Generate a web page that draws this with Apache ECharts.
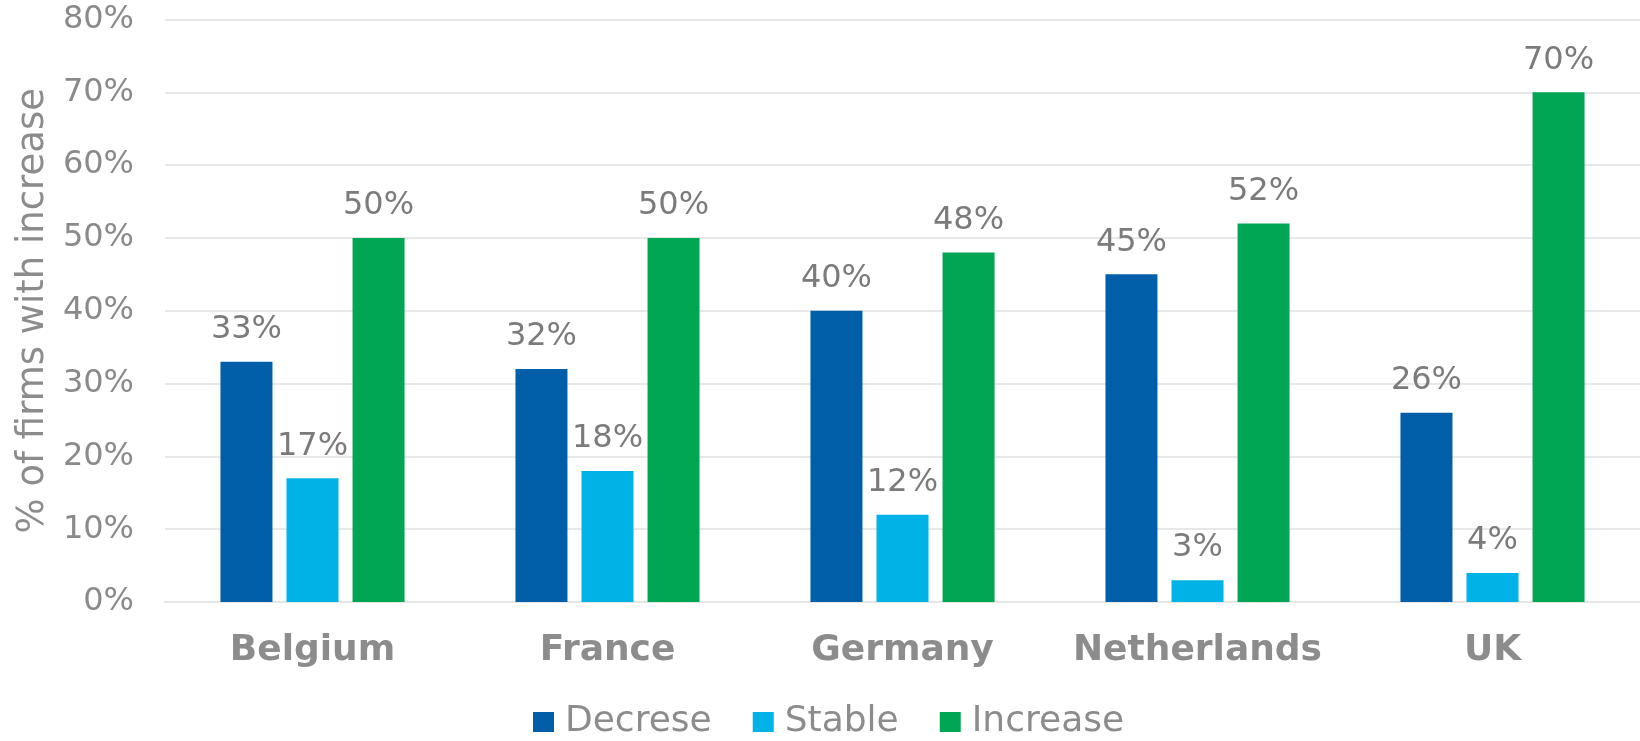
<!DOCTYPE html>
<html>
<head>
<meta charset="utf-8">
<title>Firms by change</title>
<script src="https://cdn.jsdelivr.net/npm/echarts@6/dist/echarts.min.js"></script>
<style>
  html, body { margin: 0; padding: 0; background: #fff; }
  #chart { width: 1640px; height: 741px; }
</style>
</head>
<body>
<div id="chart"></div>
<script>
// Countries along the x axis
const countries = ['Belgium', 'France', 'Germany', 'Netherlands', 'UK'];
// Share of firms (%) in each group, per country
const decreaseValues = [33, 32, 40, 45, 26];
const stableValues = [17, 18, 12, 3, 4];
const increaseValues = [50, 50, 48, 52, 70];
// Series names as shown in the legend
const seriesNames = ['Decrese', 'Stable', 'Increase'];
const seriesColors = ['#005FA8', '#00B2E5', '#00A654'];
// Value axis range
const yMin = 0, yMax = 80, yStep = 10;

const FONT = '"DejaVu Sans", Verdana, sans-serif';
const chart = echarts.init(document.getElementById('chart'), null, { renderer: 'canvas' });

function barSeries(name, data, color) {
  return {
    name: name,
    type: 'bar',
    data: data,
    barWidth: 52,
    barGap: '27%',
    itemStyle: { color: color },
    label: {
      show: true,
      position: 'top',
      distance: 16,
      formatter: '{c}%',
      color: '#7b7b7b',
      fontFamily: FONT,
      fontSize: 32
    },
    emphasis: { disabled: true }
  };
}

chart.setOption({
  animation: false,
  backgroundColor: '#fff',
  grid: { left: 165, top: 19.5, width: 1478, height: 582.5, containLabel: false },
  legend: {
    left: 533,
    top: 704,
    padding: 0,
    itemWidth: 21,
    itemHeight: 20,
    itemGap: 41,
    icon: 'rect',
    data: seriesNames,
    textStyle: { color: '#8c8c8c', fontFamily: FONT, fontSize: 36, padding: [0, 0, 0, 6] }
  },
  xAxis: {
    type: 'category',
    data: countries,
    axisTick: { show: false },
    axisLine: { show: true, lineStyle: { color: '#e6e6e6', width: 2 } },
    axisLabel: { interval: 0, color: '#8c8c8c', fontFamily: FONT, fontSize: 36, fontWeight: 'bold', margin: 31 }
  },
  yAxis: {
    type: 'value',
    min: yMin,
    max: yMax,
    interval: yStep,
    name: '% of firms with increase',
    nameLocation: 'middle',
    nameGap: 113,
    nameTextStyle: { color: '#8c8c8c', fontFamily: FONT, fontSize: 37 },
    axisLine: { show: false },
    axisTick: { show: false },
    splitLine: { lineStyle: { color: '#e8e8e8', width: 2 } },
    axisLabel: { formatter: '{value}%', color: '#8a8a8a', fontFamily: FONT, fontSize: 32, margin: 31 }
  },
  series: [
    barSeries(seriesNames[0], decreaseValues, seriesColors[0]),
    barSeries(seriesNames[1], stableValues, seriesColors[1]),
    barSeries(seriesNames[2], increaseValues, seriesColors[2])
  ]
});
</script>
</body>
</html>
